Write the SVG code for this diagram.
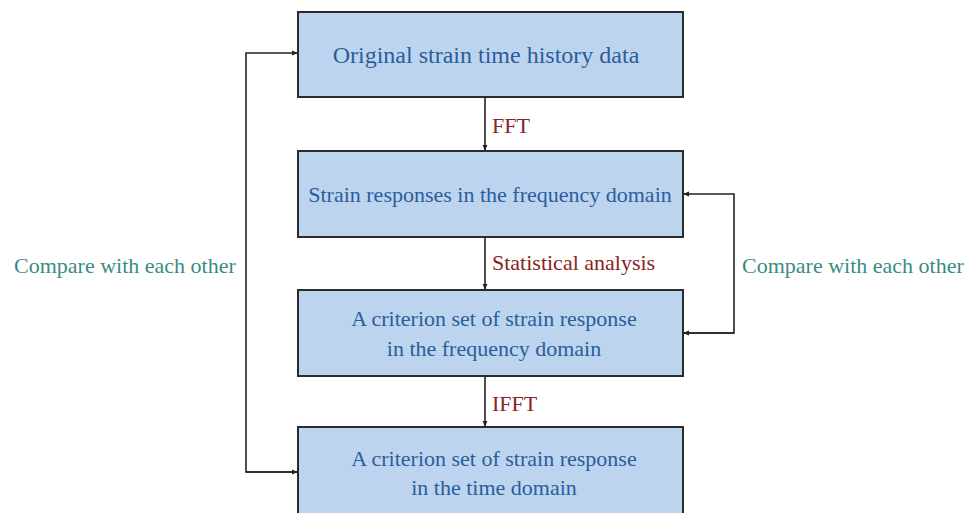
<svg xmlns="http://www.w3.org/2000/svg" width="967" height="513" viewBox="0 0 967 513">
  <defs>
    <marker id="arrow" viewBox="0 0 10 10" refX="10" refY="5" markerWidth="6" markerHeight="6" orient="auto" markerUnits="userSpaceOnUse">
      <path d="M0,1 L10,5 L0,9 z" fill="#222"/>
    </marker>
    <style>
      .box { fill: #bdd4ee; stroke: #2b2b2b; stroke-width: 2; }
      .label { font-family: "Liberation Serif", "Times New Roman", serif; font-size: 22px; fill: #2b5d9c; text-anchor: middle; }
      .big { font-size: 24px; }
      .op { font-family: "Liberation Serif", "Times New Roman", serif; font-size: 22px; fill: #8a2323; }
      .cmp { font-family: "Liberation Serif", "Times New Roman", serif; font-size: 22px; fill: #3a8c84; }
      .wire { fill: none; stroke: #222; stroke-width: 1.6; marker-end: url(#arrow); }
    </style>
  </defs>
  <rect width="967" height="513" fill="#ffffff"/>

  <g id="connectors">
    <path class="wire" d="M485,97 V151"/>
    <path class="wire" d="M485,237 V290"/>
    <path class="wire" d="M485,376 V427"/>
    <path class="wire" d="M298,472 H246 V53 H298"/>
    <path class="wire" d="M246,472 H298"/>
    <path class="wire" d="M683,333 H734 V194 H683"/>
    <path class="wire" d="M734,333 H683"/>
    <text class="op" x="492" y="133">FFT</text>
    <text class="op" x="492" y="270">Statistical analysis</text>
    <text class="op" x="492" y="411">IFFT</text>
    <text class="cmp" x="14" y="273">Compare with each other</text>
    <text class="cmp" x="742" y="273">Compare with each other</text>
  </g>

  <g id="node-original">
    <rect class="box" x="298" y="12" width="385" height="85"/>
    <text class="label big" x="486" y="63">Original strain time history data</text>
  </g>

  <g id="node-frequency">
    <rect class="box" x="298" y="151" width="385" height="86"/>
    <text class="label" x="490" y="202">Strain responses in the frequency domain</text>
  </g>

  <g id="node-criterion-frequency">
    <rect class="box" x="298" y="290" width="385" height="86"/>
    <text class="label" x="494" y="326">A criterion set of strain response</text>
    <text class="label" x="494" y="356">in the frequency domain</text>
  </g>

  <g id="node-criterion-time">
    <rect class="box" x="298" y="427" width="385" height="95"/>
    <text class="label" x="494" y="466">A criterion set of strain response</text>
    <text class="label" x="494" y="495">in the time domain</text>
  </g>
</svg>
